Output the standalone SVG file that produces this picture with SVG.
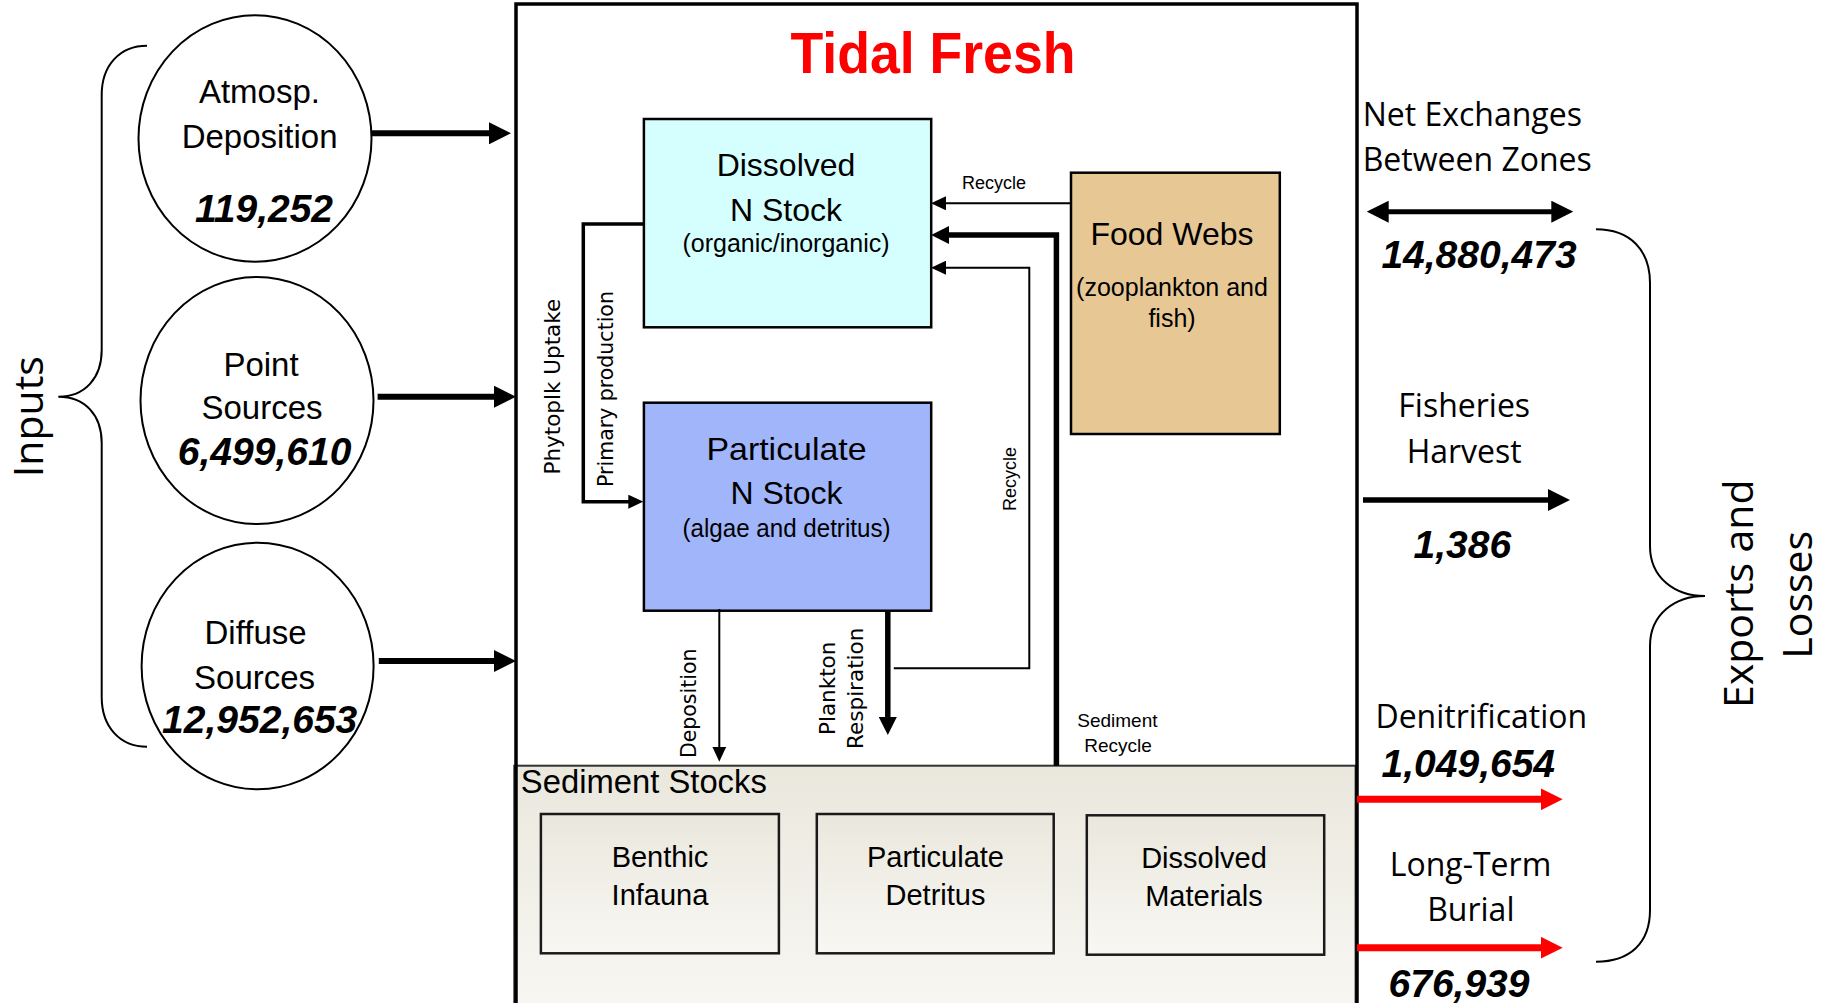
<svg xmlns="http://www.w3.org/2000/svg" width="1825" height="1003" viewBox="0 0 1825 1003">
<style>
.cal{font-family:"Liberation Sans",Arial,sans-serif;fill:#000}
.seg{font-family:"Open Sans","DejaVu Sans",sans-serif;fill:#000}
.ver{font-family:"DejaVu Sans",Verdana,sans-serif;fill:#000}
.num{font-family:"Liberation Sans",Arial,sans-serif;font-weight:bold;font-style:italic;font-size:39px;fill:#000;text-anchor:middle}
.mid{text-anchor:middle}
.circ{fill:#fff;stroke:#000;stroke-width:2}
.brace{fill:none;stroke:#000;stroke-width:2}
.ln{fill:none;stroke:#000}
</style>
<defs>
<linearGradient id="sedg" x1="0" y1="0" x2="0" y2="1">
<stop offset="0" stop-color="#EAE8DD"/>
<stop offset="1" stop-color="#F8F7F3"/>
</linearGradient>
<marker id="hb" viewBox="0 0 22 22" markerWidth="22" markerHeight="22" refX="3" refY="11" markerUnits="userSpaceOnUse" orient="auto-start-reverse"><path d="M0,0 L22,11 L0,22 z" fill="#000"/></marker>
<marker id="hr" viewBox="0 0 22 22" markerWidth="22" markerHeight="22" refX="3" refY="11" markerUnits="userSpaceOnUse" orient="auto"><path d="M0,0 L22,11 L0,22 z" fill="#FF0000"/></marker>
<marker id="hm" viewBox="0 0 18 18" markerWidth="18" markerHeight="18" refX="3" refY="9" markerUnits="userSpaceOnUse" orient="auto"><path d="M0,0 L18,9 L0,18 z" fill="#000"/></marker>
<marker id="hs" viewBox="0 0 15 14" markerWidth="15" markerHeight="14" refX="2" refY="7" markerUnits="userSpaceOnUse" orient="auto"><path d="M0,0 L15,7 L0,14 z" fill="#000"/></marker>
</defs>
<rect x="0" y="0" width="1825" height="1003" fill="#fff"/>

<g id="sediment-stocks">
<rect x="514.3" y="765.7" width="841.3" height="250" fill="url(#sedg)" stroke="#333" stroke-width="2"/>
<text class="cal" x="520.8" y="792.7" font-size="33" textLength="246" lengthAdjust="spacingAndGlyphs">Sediment Stocks</text>
</g>
<g id="benthic-infauna">
<rect x="540.9" y="814" width="238" height="139.3" fill="url(#sedg)" stroke="#1a1a1a" stroke-width="2.5"/>
<text class="cal mid" x="660" y="866.7" font-size="29">Benthic</text>
<text class="cal mid" x="660" y="905" font-size="29">Infauna</text>
</g>
<g id="particulate-detritus">
<rect x="816.8" y="814" width="236.9" height="139.3" fill="url(#sedg)" stroke="#1a1a1a" stroke-width="2.5"/>
<text class="cal mid" x="935.5" y="866.7" font-size="29">Particulate</text>
<text class="cal mid" x="935.5" y="905" font-size="29">Detritus</text>
</g>
<g id="dissolved-materials">
<rect x="1086.8" y="815.3" width="237.4" height="139.4" fill="url(#sedg)" stroke="#1a1a1a" stroke-width="2.5"/>
<text class="cal mid" x="1204" y="867.5" font-size="29">Dissolved</text>
<text class="cal mid" x="1204" y="905.5" font-size="29">Materials</text>
</g>

<g id="tidal-fresh">
<rect x="516" y="4" width="841" height="1010" fill="none" stroke="#000" stroke-width="3.5"/>
<text x="933" y="72.7" font-family="Liberation Sans, Arial, sans-serif" font-weight="bold" font-size="57" fill="#FF0000" text-anchor="middle" textLength="285" lengthAdjust="spacingAndGlyphs">Tidal Fresh</text>
</g>

<g id="dissolved-n-stock">
<rect x="643.9" y="119" width="287.3" height="208.3" fill="#D5FFFE" stroke="#000" stroke-width="2.5"/>
<text class="cal mid" x="786" y="176" font-size="32">Dissolved</text>
<text class="cal mid" x="786" y="220.7" font-size="32">N Stock</text>
<text class="cal mid" x="786" y="252" font-size="25">(organic/inorganic)</text>
</g>
<g id="particulate-n-stock">
<rect x="643.9" y="402.7" width="287.3" height="208" fill="#A0B5FA" stroke="#000" stroke-width="2.5"/>
<text class="cal mid" x="786.5" y="460" font-size="32" textLength="160" lengthAdjust="spacingAndGlyphs">Particulate</text>
<text class="cal mid" x="786.5" y="504" font-size="32">N Stock</text>
<text class="cal mid" x="786.5" y="537" font-size="25" textLength="208" lengthAdjust="spacingAndGlyphs">(algae and detritus)</text>
</g>
<g id="food-webs">
<rect x="1071" y="172.7" width="208.8" height="261.3" fill="#E7C895" stroke="#000" stroke-width="2.5"/>
<text class="cal mid" x="1172" y="245" font-size="32">Food Webs</text>
<text class="cal mid" x="1172" y="296" font-size="25">(zooplankton and</text>
<text class="cal mid" x="1172" y="326.7" font-size="25">fish)</text>
</g>

<g id="atmosp-deposition">
<ellipse class="circ" cx="255" cy="138.5" rx="116.5" ry="123.3"/>
<text class="cal mid" x="259.4" y="103" font-size="33">Atmosp.</text>
<text class="cal mid" x="259.6" y="148" font-size="33">Deposition</text>
<text class="num" x="264" y="221.7">119,252</text>
</g>
<g id="point-sources">
<ellipse class="circ" cx="257" cy="400.5" rx="116.5" ry="123.5"/>
<text class="cal mid" x="261" y="375.7" font-size="33">Point</text>
<text class="cal mid" x="262" y="419" font-size="33">Sources</text>
<text class="num" x="264.6" y="465">6,499,610</text>
</g>
<g id="diffuse-sources">
<ellipse class="circ" cx="257.6" cy="666" rx="116" ry="123.3"/>
<text class="cal mid" x="255.6" y="644.3" font-size="33">Diffuse</text>
<text class="cal mid" x="254.6" y="689.3" font-size="33">Sources</text>
<text class="num" x="259.7" y="733.3">12,952,653</text>
</g>

<g id="inputs">
<path class="brace" d="M147,45.7 C120,45.7 101.7,65 101.7,95 L101.7,350 C101.7,378 85,396.7 58.3,396.7 C85,396.7 101.7,415 101.7,443 L101.7,697 C101.7,727 120,746.7 147,746.7"/>
<text class="seg mid" font-size="41" transform="translate(43.3,416.7) rotate(-90)">Inputs</text>
</g>

<g id="exports-losses">
<path class="brace" d="M1596,229.3 C1630,229.3 1650,250 1650,283 L1650,546 C1650,578 1675,596 1705,596 C1675,596 1650,614 1650,646 L1650,910 C1650,943 1630,961.7 1596,961.7"/>
<text class="seg mid" font-size="41" transform="translate(1753.3,593.7) rotate(-90)">Exports and</text>
<text class="seg mid" font-size="41" transform="translate(1811.7,594.8) rotate(-90)">Losses</text>
</g>

<g id="connectors">
<path class="ln" stroke-width="6" d="M371.7,133.3 H492" marker-end="url(#hb)"/>
<path class="ln" stroke-width="6" d="M377.6,396.7 H497" marker-end="url(#hb)"/>
<path class="ln" stroke-width="6" d="M378.8,661 H497" marker-end="url(#hb)"/>
<path class="ln" stroke-width="5" d="M1385.7,211.7 H1554.3" marker-start="url(#hb)" marker-end="url(#hb)"/>
<path class="ln" stroke-width="5.5" d="M1363,500 H1551" marker-end="url(#hb)"/>
<path fill="none" stroke="#FF0000" stroke-width="7" d="M1357,799.3 H1543.7" marker-end="url(#hr)"/>
<path fill="none" stroke="#FF0000" stroke-width="7" d="M1357,947.7 H1543.7" marker-end="url(#hr)"/>
<path class="ln" stroke-width="2" d="M1071,203.3 H944" marker-end="url(#hs)"/>
<path class="ln" stroke-width="5.5" d="M1056.4,765.7 V235 H946.2" marker-end="url(#hm)"/>
<path class="ln" stroke-width="2" d="M893.8,668.3 H1029.3 V267.7 H944" marker-end="url(#hs)"/>
<path class="ln" stroke-width="3.5" d="M643.9,224 H583.3 V501.7 H630.3" marker-end="url(#hs)"/>
<path class="ln" stroke-width="2" d="M719.3,609 V748.7" marker-end="url(#hs)"/>
<path class="ln" stroke-width="5.5" d="M887.8,611 V720" marker-end="url(#hm)"/>
<text class="cal mid" x="994" y="189" font-size="18">Recycle</text>
<text class="cal mid" font-size="18" transform="translate(1015.5,479) rotate(-90)">Recycle</text>
<text class="cal mid" x="1117.4" y="726.7" font-size="19">Sediment</text>
<text class="cal mid" x="1118" y="751.7" font-size="19">Recycle</text>
<text class="ver mid" font-size="21.5" transform="translate(560,386.7) rotate(-90)">Phytoplk Uptake</text>
<text class="ver mid" font-size="20.5" transform="translate(613,389) rotate(-90)">Primary production</text>
<text class="ver mid" font-size="20.5" transform="translate(695.5,703.3) rotate(-90)">Deposition</text>
<text class="ver mid" font-size="21.5" transform="translate(835,688.3) rotate(-90)">Plankton</text>
<text class="ver mid" font-size="21.5" transform="translate(862.5,688.3) rotate(-90)">Respiration</text>
</g>

<g id="net-exchanges">
<text class="seg" x="1362.7" y="126" font-size="32">Net Exchanges</text>
<text class="seg" x="1362.7" y="170.7" font-size="32">Between Zones</text>
<text class="num" x="1479" y="268.3">14,880,473</text>
</g>
<g id="fisheries-harvest">
<text class="seg mid" x="1464.2" y="416.7" font-size="32">Fisheries</text>
<text class="seg mid" x="1464.2" y="462.7" font-size="32">Harvest</text>
<text class="num" x="1462.3" y="558.3">1,386</text>
</g>
<g id="denitrification">
<text class="seg mid" x="1481.3" y="728.3" font-size="32">Denitrification</text>
<text class="num" x="1468.3" y="776.7">1,049,654</text>
</g>
<g id="long-term-burial">
<text class="seg mid" x="1470.5" y="876" font-size="32">Long-Term</text>
<text class="seg mid" x="1470.8" y="920.7" font-size="32">Burial</text>
<text class="num" x="1459" y="996.7">676,939</text>
</g>
</svg>
